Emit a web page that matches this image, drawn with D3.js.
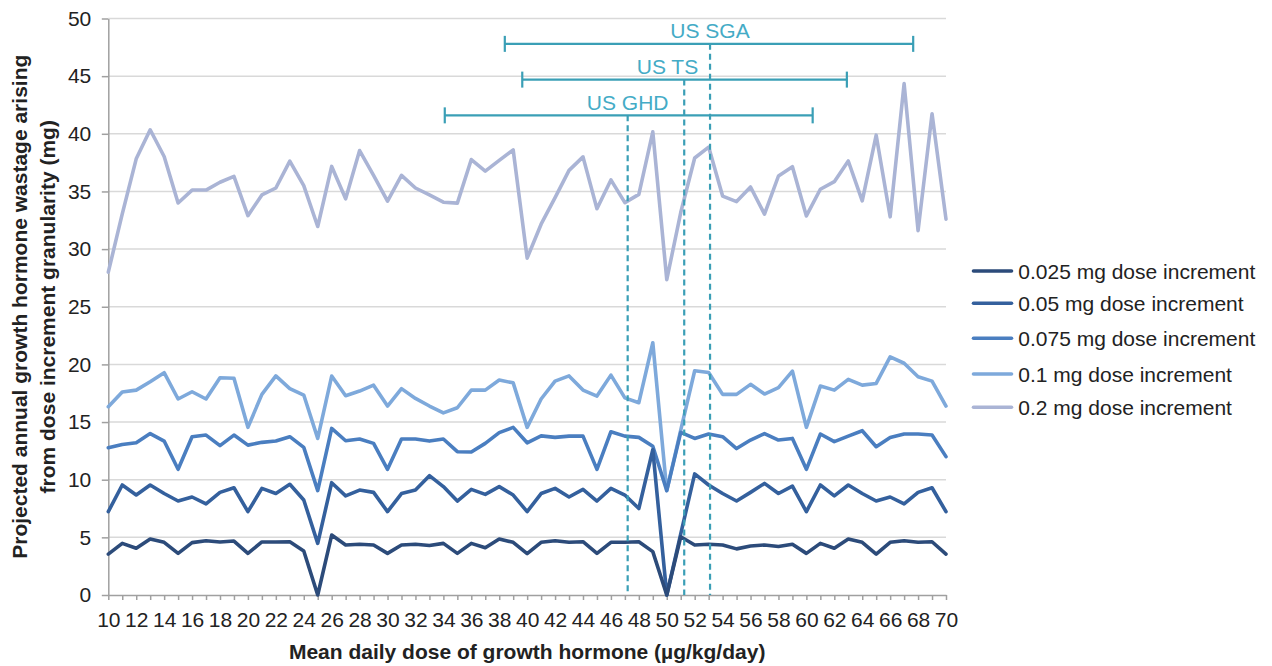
<!DOCTYPE html>
<html>
<head>
<meta charset="utf-8">
<script src="https://cdn.jsdelivr.net/npm/d3@7"></script>
<style>
  html, body { margin: 0; padding: 0; background: #fff; }
  svg { display: block; font-family: "Liberation Sans", Arial, Helvetica, sans-serif; }
</style>
</head>
<body>
<svg id="chart" width="1272" height="666"></svg>
<script>
// ---------- DATA ----------
const dose = [10,11,12,13,14,15,16,17,18,19,20,21,22,23,24,25,26,27,28,29,30,
  31,32,33,34,35,36,37,38,39,40,41,42,43,44,45,46,47,48,49,50,
  51,52,53,54,55,56,57,58,59,60,61,62,63,64,65,66,67,68,69,70];

const inc0025 = [3.55,4.48,4.05,4.86,4.57,3.61,4.54,4.71,4.6,4.68,3.61,4.6,4.6,4.62,3.82,0,5.2,4.34,4.4,4.34,3.61,
  4.34,4.4,4.3,4.48,3.61,4.48,4.1,4.86,4.57,3.58,4.57,4.71,4.57,4.62,3.61,4.57,4.57,4.62,3.76,0,
  5.05,4.34,4.4,4.34,4.0,4.25,4.34,4.2,4.4,3.61,4.48,4.05,4.86,4.57,3.55,4.57,4.71,4.57,4.62,3.55];

const inc005 = [7.23,9.54,8.67,9.54,8.8,8.15,8.5,7.9,8.9,9.3,7.23,9.25,8.8,9.6,8.24,4.48,9.74,8.6,9.1,8.9,7.23,
  8.8,9.1,10.35,9.4,8.15,9.16,8.73,9.4,8.67,7.23,8.8,9.25,8.5,9.16,8.15,9.25,8.67,7.5,12.6,0,
  5.3,10.5,9.54,8.8,8.15,8.9,9.68,8.8,9.45,7.23,9.54,8.6,9.54,8.8,8.15,8.5,7.9,8.9,9.3,7.23];

const inc0075 = [12.77,13.06,13.2,14.0,13.35,10.9,13.73,13.87,12.95,13.87,13.0,13.24,13.35,13.73,12.8,9.05,14.45,13.38,13.53,13.15,10.9,
  13.53,13.53,13.35,13.53,12.43,12.4,13.15,14.08,14.54,13.2,13.8,13.67,13.78,13.78,10.9,14.16,13.78,13.67,12.9,9.05,
  14.1,13.58,13.96,13.73,12.7,13.44,14.0,13.44,13.58,10.9,13.96,13.3,13.78,14.25,12.86,13.67,13.96,13.96,13.87,12.0];

const inc01 = [16.33,17.6,17.77,18.5,19.28,17.0,17.63,17.0,18.84,18.8,14.54,17.4,19.0,17.9,17.34,13.58,18.99,17.28,17.69,18.2,16.39,
  17.9,17.05,16.39,15.8,16.24,17.77,17.77,18.64,18.4,14.54,17.0,18.55,19.0,17.77,17.25,19.07,17.1,16.68,21.88,9.05,
  14.3,19.45,19.3,17.4,17.4,18.27,17.43,17.98,19.42,14.54,18.12,17.77,18.7,18.2,18.35,20.66,20.1,18.93,18.55,16.39];

const inc02 = [28.0,33.06,37.83,40.35,38.03,34.0,35.12,35.12,35.8,36.3,32.9,34.7,35.3,37.63,35.5,31.96,37.17,34.36,38.55,36.4,34.16,
  36.4,35.3,34.7,34.07,33.99,37.77,36.76,37.7,38.6,29.22,32.16,34.47,36.83,38.0,33.5,36.0,34.03,34.75,40.17,27.35,
  33.17,37.9,38.85,34.6,34.12,35.39,33.03,36.34,37.15,32.88,35.19,35.85,37.64,34.18,39.88,32.8,44.35,31.6,41.73,32.6];

const seriesNames = ["0.025 mg dose increment","0.05 mg dose increment","0.075 mg dose increment","0.1 mg dose increment","0.2 mg dose increment"];
const seriesValues = [inc0025, inc005, inc0075, inc01, inc02];

const yTicks = [0,5,10,15,20,25,30,35,40,45,50];

// population dose ranges (µg/kg/day): low end, high end, mean, label position
const rangeNames = ["US SGA","US TS","US GHD"];
const rangeLow   = [38.4, 39.65, 34.1];
const rangeHigh  = [67.65, 62.9, 60.45];
const rangeMean  = [53.1, 51.25, 47.2];
const rangeLabelX = [53.1, 50.05, 47.2];
const rangeLevel = [47.8, 44.7, 41.6]; // y-level (mg scale) of each bar

// ---------- STYLE ----------
const colors = ["#2c4b7a","#34609d","#4a7ec0","#7ea9db","#aab4d5"];
const annColor = "#3a9fb6";
const annText = "#44abc6";
const FONT = 21;

// ---------- CHART ----------
const svg = d3.select("#chart");
const x = d3.scaleLinear().domain([10,70]).range([108.3, 946]);
const y = d3.scaleLinear().domain([0,50]).range([595, 18.5]);

// gridlines
svg.append("g").selectAll("line").data(yTicks.filter(d => d > 0)).join("line")
  .attr("x1", x(10)).attr("x2", x(70))
  .attr("y1", d => y(d)).attr("y2", d => y(d))
  .attr("stroke", "#d9d9d9").attr("stroke-width", 1.5);

// y axis
const yAxis = svg.append("g").attr("transform", `translate(${x(10)},0)`)
  .call(d3.axisLeft(y).tickValues(yTicks).tickSize(6.5).tickPadding(10.5).tickSizeOuter(0));
yAxis.select(".domain").attr("stroke", "#a0a0a0").attr("stroke-width", 1.5);
yAxis.selectAll(".tick line").attr("stroke", "#a0a0a0").attr("stroke-width", 1.5);
yAxis.selectAll(".tick text").attr("font-size", FONT).attr("fill", "#222")
  .attr("font-family", "Liberation Sans, Arial, sans-serif");

// x axis
const xAxis = svg.append("g").attr("transform", `translate(0,${y(0)})`)
  .call(d3.axisBottom(x).tickValues(dose).tickSize(5).tickPadding(12).tickSizeOuter(0)
    .tickFormat(d => (d % 2 === 0 ? d : "")));
xAxis.select(".domain").attr("stroke", "#a0a0a0").attr("stroke-width", 1.5);
xAxis.selectAll(".tick line").attr("stroke", "#a0a0a0").attr("stroke-width", 1.5);
xAxis.selectAll(".tick text").attr("font-size", FONT).attr("fill", "#222")
  .attr("font-family", "Liberation Sans, Arial, sans-serif");

// series lines (lighter first so darker sit on top)
const line = d3.line().x((d, i) => x(dose[i])).y(d => y(d));
const order = [4,3,2,1,0];
svg.append("g").selectAll("path").data(order).join("path")
  .attr("d", k => line(seriesValues[k]))
  .attr("fill", "none")
  .attr("stroke", k => colors[k])
  .attr("stroke-width", 3.6)
  .attr("stroke-linejoin", "round")
  .attr("stroke-linecap", "round");

// annotation ranges
const ann = svg.append("g");
rangeNames.forEach((name, i) => {
  const yy = y(rangeLevel[i]);
  ann.append("line").attr("x1", x(rangeLow[i])).attr("x2", x(rangeHigh[i]))
    .attr("y1", yy).attr("y2", yy).attr("stroke", annColor).attr("stroke-width", 2.2);
  [rangeLow[i], rangeHigh[i]].forEach(v => {
    ann.append("line").attr("x1", x(v)).attr("x2", x(v))
      .attr("y1", yy - 8).attr("y2", yy + 8)
      .attr("stroke", annColor).attr("stroke-width", 2.2);
  });
  ann.append("line").attr("x1", x(rangeMean[i])).attr("x2", x(rangeMean[i]))
    .attr("y1", yy).attr("y2", y(0))
    .attr("stroke", annColor).attr("stroke-width", 2.2)
    .attr("stroke-dasharray", "6,4");
  ann.append("text").attr("x", x(rangeLabelX[i])).attr("y", yy - 5.5)
    .attr("text-anchor", "middle").attr("font-size", FONT).attr("fill", annText)
    .text(name);
});

// legend
const legendY = [271, 303.3, 338.3, 374, 407.3];
const lg = svg.append("g");
seriesNames.forEach((name, i) => {
  lg.append("line").attr("x1", 973.5).attr("x2", 1011.5)
    .attr("y1", legendY[i]).attr("y2", legendY[i])
    .attr("stroke", colors[i]).attr("stroke-width", 3.6).attr("stroke-linecap", "round");
  lg.append("text").attr("x", 1018.3).attr("y", legendY[i]).attr("dy", "0.36em")
    .attr("font-size", FONT).attr("fill", "#222").text(name);
});

// axis titles
svg.append("text")
  .attr("x", (x(10) + x(70)) / 2).attr("y", 659)
  .attr("text-anchor", "middle").attr("font-size", FONT).attr("font-weight", "bold")
  .attr("fill", "#222").text("Mean daily dose of growth hormone (\u00b5g/kg/day)");

const yt = svg.append("text")
  .attr("transform", `translate(0,${(y(0) + y(50)) / 2}) rotate(-90)`)
  .attr("text-anchor", "middle").attr("font-size", FONT).attr("font-weight", "bold")
  .attr("fill", "#222");
yt.append("tspan").attr("x", 0).attr("y", 26.5).text("Projected annual growth hormone wastage arising");
yt.append("tspan").attr("x", 0).attr("y", 55).text("from dose increment granularity (mg)");
</script>
</body>
</html>
